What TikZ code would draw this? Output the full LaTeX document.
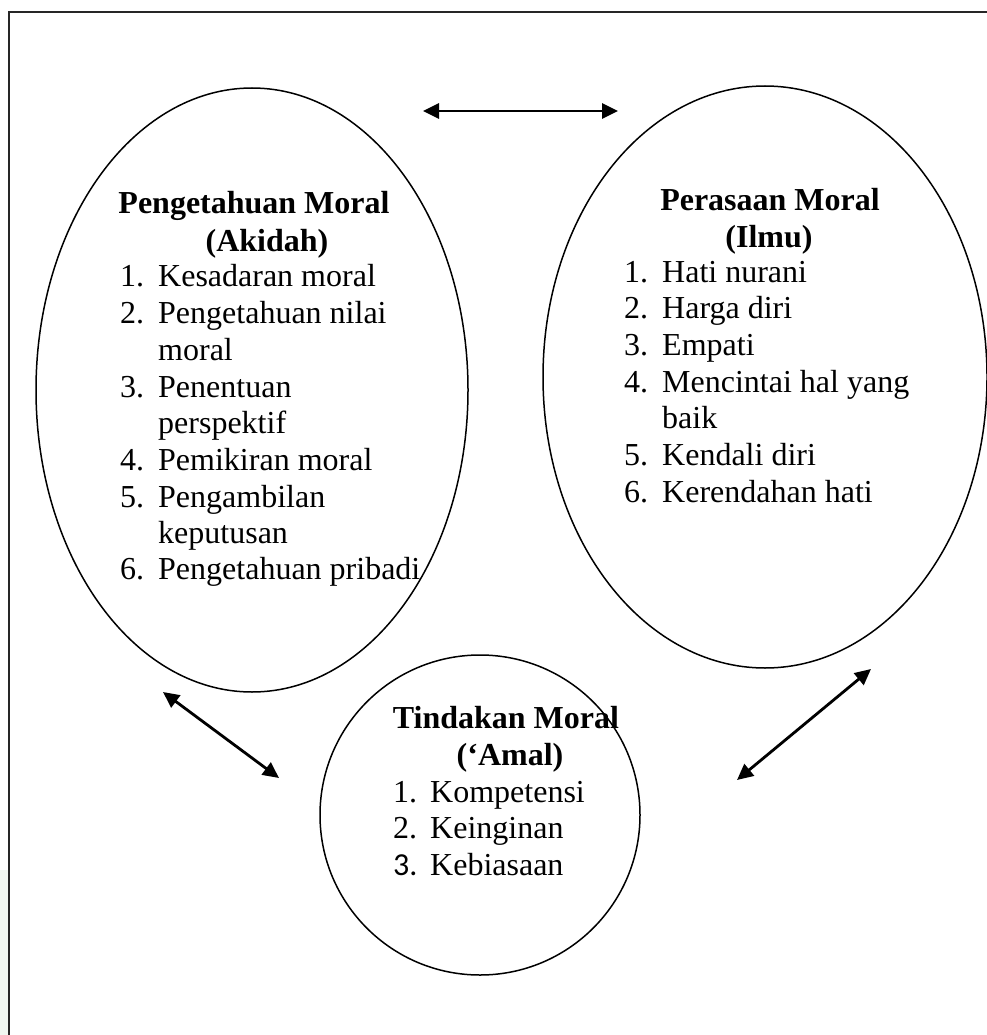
\documentclass[tikz,border=0pt]{standalone}
\usepackage{fontspec}
\setmainfont{Liberation Serif}
\newfontfamily\numfont{Carlito}
\usetikzlibrary{arrows.meta,shapes.geometric}
\definecolor{strip}{HTML}{F1F7F1}
\begin{document}
\begin{tikzpicture}[x=1pt,y=-1pt,
  txt/.style={anchor=base west, inner sep=0pt, font=\fontsize{32}{37.5}\selectfont},
  ttl/.style={anchor=base, inner sep=0pt, font=\fontsize{32}{37.5}\selectfont\bfseries},
  oval/.style={draw, line width=1.5pt, ellipse, inner sep=0pt},
  link/.style={line width=2.8pt, {Triangle[length=16pt,width=15pt]}-{Triangle[length=16pt,width=15pt]}}]
\useasboundingbox (0,0) rectangle (986,1035);
\fill[strip] (0,870) rectangle (8,1035);
\draw[line width=2pt, draw=black!85] (995,12) -- (9,12) -- (9,1040);

% ovals
\node[oval, minimum width=432pt, minimum height=604pt] (know) at (252,390) {};
\node[oval, minimum width=444pt, minimum height=582pt] (feel) at (765,377) {};
\node[oval, minimum width=320pt, minimum height=320pt] (act) at (480,815) {};

% left text
\node[ttl] (k0) at (254,213) {Pengetahuan Moral};
\node[ttl] (k00) at (267,251) {(Akidah)};
\node[txt] (kn1) at (120,286) {1.};
\node[txt] (kt1) at (158,286) {Kesadaran moral};
\node[txt] (kn2) at (120,323) {2.};
\node[txt] (kt2) at (158,323) {Pengetahuan nilai};
\node[txt] (kt2b) at (158,360) {moral};
\node[txt] (kn3) at (120,397) {3.};
\node[txt] (kt3) at (158,397) {Penentuan};
\node[txt] (kt3b) at (158,433) {perspektif};
\node[txt] (kn4) at (120,470) {4.};
\node[txt] (kt4) at (158,470) {Pemikiran moral};
\node[txt] (kn5) at (120,507) {5.};
\node[txt] (kt5) at (158,507) {Pengambilan};
\node[txt] (kt5b) at (158,543) {keputusan};
\node[txt] (kn6) at (120,579) {6.};
\node[txt] (kt6) at (158,579) {Pengetahuan pribadi};

% right text
\node[ttl] (f0) at (770,210) {Perasaan Moral};
\node[ttl] (f00) at (769,247) {(Ilmu)};
\node[txt] (fn1) at (624,282) {1.};
\node[txt] (ft1) at (662,282) {Hati nurani};
\node[txt] (fn2) at (624,318) {2.};
\node[txt] (ft2) at (662,318) {Harga diri};
\node[txt] (fn3) at (624,355) {3.};
\node[txt] (ft3) at (662,355) {Empati};
\node[txt] (fn4) at (624,392) {4.};
\node[txt] (ft4) at (662,392) {Mencintai hal yang};
\node[txt] (ft4b) at (662,428) {baik};
\node[txt] (fn5) at (624,465) {5.};
\node[txt] (ft5) at (662,465) {Kendali diri};
\node[txt] (fn6) at (624,502) {6.};
\node[txt] (ft6) at (662,502) {Kerendahan hati};

% bottom text
\node[ttl] (a0) at (506,728) {Tindakan Moral};
\node[ttl] (a00) at (510,765) {(‘Amal)};
\node[txt] (an1) at (393,802) {1.};
\node[txt] (at1) at (430,802) {Kompetensi};
\node[txt] (an2) at (393,838) {2.};
\node[txt] (at2) at (430,838) {Keinginan};
\node[txt, font=\fontsize{32}{37.5}\numfont] (an3) at (393,875) {3.};
\node[txt] (at3) at (430,875) {Kebiasaan};

% arrows
\coordinate (t1) at (423,111);
\coordinate (t2) at (618,111);
\coordinate (l1) at (163,692);
\coordinate (l2) at (279,778);
\coordinate (r1) at (871,669);
\coordinate (r2) at (737,780);
\draw[link] (t1) -- (t2);
\draw[link] (l1) -- (l2);
\draw[link] (r1) -- (r2);
\end{tikzpicture}
\end{document}
